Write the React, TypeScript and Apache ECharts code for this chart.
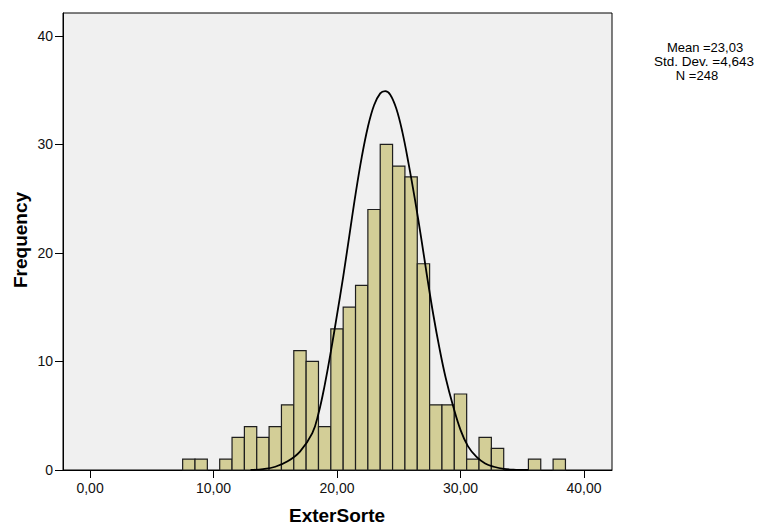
import React, { useEffect, useRef } from "react";
import * as echarts from "echarts";

// Histogram bins (bin centres, width 1) and counts
const binCenters = [8, 9, 10, 11, 12, 13, 14, 15, 16, 17, 18, 19, 20, 21, 22, 23, 24, 25, 26, 27, 28, 29, 30, 31, 32, 33, 34, 35, 36, 37, 38];
const frequencies = [1, 1, 0, 1, 3, 4, 3, 4, 6, 11, 10, 4, 13, 15, 17, 24, 30, 28, 27, 19, 6, 6, 7, 1, 3, 2, 0, 0, 1, 0, 1];

// Normal curve points
const curveX = [13.0, 14.0, 15.0, 16.0, 17.0, 18.0, 18.5, 19.0, 19.5, 20.0, 20.5, 21.0, 21.5, 22.0, 22.5, 23.0, 23.5, 23.9, 24.3, 24.8, 25.3, 25.8, 26.3, 26.8, 27.3, 27.8, 28.3, 28.8, 29.4, 30.0, 30.6, 31.3, 32.0, 32.7, 33.5, 34.5, 35.5];
const curveY = [0.0, 0.08, 0.3, 0.8, 1.7, 3.4, 5.2, 7.8, 10.9, 14.3, 17.8, 21.6, 25.4, 28.8, 31.6, 33.6, 34.7, 34.9, 34.6, 33.3, 31.1, 28.2, 25.0, 21.5, 17.8, 14.3, 11.2, 8.5, 5.9, 3.7, 2.2, 1.2, 0.6, 0.3, 0.1, 0.02, 0.0];

const xTicks = [0, 10, 20, 30, 40];
const yTicks = [0, 10, 20, 30, 40];

const statsLines = ["Mean =23,03", "Std. Dev. =4,643", "N =248"];

const FONT = "'Liberation Sans', Arial, Helvetica, sans-serif";

export default function App() {
  const ref = useRef<HTMLDivElement>(null);

  useEffect(() => {
    if (!ref.current) return;
    const chart = echarts.init(ref.current, null, { renderer: "svg" });

    const barData = binCenters
      .map((c, i) => [c, frequencies[i]])
      .filter((d) => d[1] > 0);
    const lineData = curveX.map((x, i) => [x, curveY[i]]);

    chart.setOption({
      animation: false,
      backgroundColor: "#ffffff",
      textStyle: { fontFamily: FONT },
      grid: {
        left: 63,
        top: 13,
        width: 549,
        height: 457,
        show: true,
        backgroundColor: "#f0f0f0",
        borderColor: "#000",
        borderWidth: 1,
      },
      xAxis: {
        type: "value",
        min: -2.19,
        max: 42.27,
        splitLine: { show: false },
        axisLine: { show: true, onZero: false, lineStyle: { color: "#000", width: 1 } },
        axisTick: {
          show: true,
          length: 8,
          customValues: xTicks,
          lineStyle: { color: "#000", width: 1 },
        },
        axisLabel: {
          customValues: xTicks,
          formatter: (v: number) => v.toFixed(2).replace(".", ","),
          fontSize: 14,
          color: "#111",
          fontFamily: FONT,
          margin: 11,
        },
      },
      yAxis: {
        type: "value",
        min: 0,
        max: 42.1,
        splitLine: { show: false },
        axisLine: { show: true, onZero: false, lineStyle: { color: "#000", width: 1 } },
        axisTick: {
          show: true,
          length: 8,
          customValues: yTicks,
          lineStyle: { color: "#000", width: 1 },
        },
        axisLabel: {
          customValues: yTicks,
          formatter: (v: number) => String(v),
          fontSize: 14,
          color: "#111",
          fontFamily: FONT,
          margin: 10,
        },
      },
      series: [
        {
          type: "custom",
          data: barData,
          encode: { x: 0, y: 1 },
          z: 2,
          renderItem: (params: any, api: any) => {
            const x = api.value(0);
            const y = api.value(1);
            const p0 = api.coord([x - 0.5, y]);
            const p1 = api.coord([x + 0.5, 0]);
            return {
              type: "rect",
              shape: { x: p0[0], y: p0[1], width: p1[0] - p0[0], height: p1[1] - p0[1] },
              style: { fill: "#d3ce97", stroke: "#1e1e1e", lineWidth: 1.2 },
            };
          },
        },
        {
          type: "line",
          data: lineData,
          smooth: 0.4,
          showSymbol: false,
          symbol: "none",
          z: 3,
          lineStyle: { color: "#000", width: 1.8 },
        },
      ],
      graphic: [
        {
          type: "text",
          x: 20,
          y: 240,
          rotation: Math.PI / 2,
          style: {
            text: "Frequency",
            font: `bold 19px ${FONT}`,
            fill: "#000",
            textAlign: "center",
            textVerticalAlign: "middle",
          },
        },
        {
          type: "text",
          x: 337,
          y: 515,
          style: {
            text: "ExterSorte",
            font: `bold 19px ${FONT}`,
            fill: "#000",
            textAlign: "center",
            textVerticalAlign: "middle",
          },
        },
        {
          type: "text",
          x: 705,
          y: 47,
          style: { text: statsLines[0], font: `13px ${FONT}`, fill: "#000", textAlign: "center", textVerticalAlign: "middle" },
        },
        {
          type: "text",
          x: 704,
          y: 61,
          style: { text: statsLines[1], font: `13.5px ${FONT}`, fill: "#000", textAlign: "center", textVerticalAlign: "middle" },
        },
        {
          type: "text",
          x: 697,
          y: 75,
          style: { text: statsLines[2], font: `13px ${FONT}`, fill: "#000", textAlign: "center", textVerticalAlign: "middle" },
        },
      ],
    });

    return () => chart.dispose();
  }, []);

  return (
    <div
      ref={ref}
      style={{ position: "absolute", left: 0, top: 0, width: 763, height: 526 }}
    />
  );
}
